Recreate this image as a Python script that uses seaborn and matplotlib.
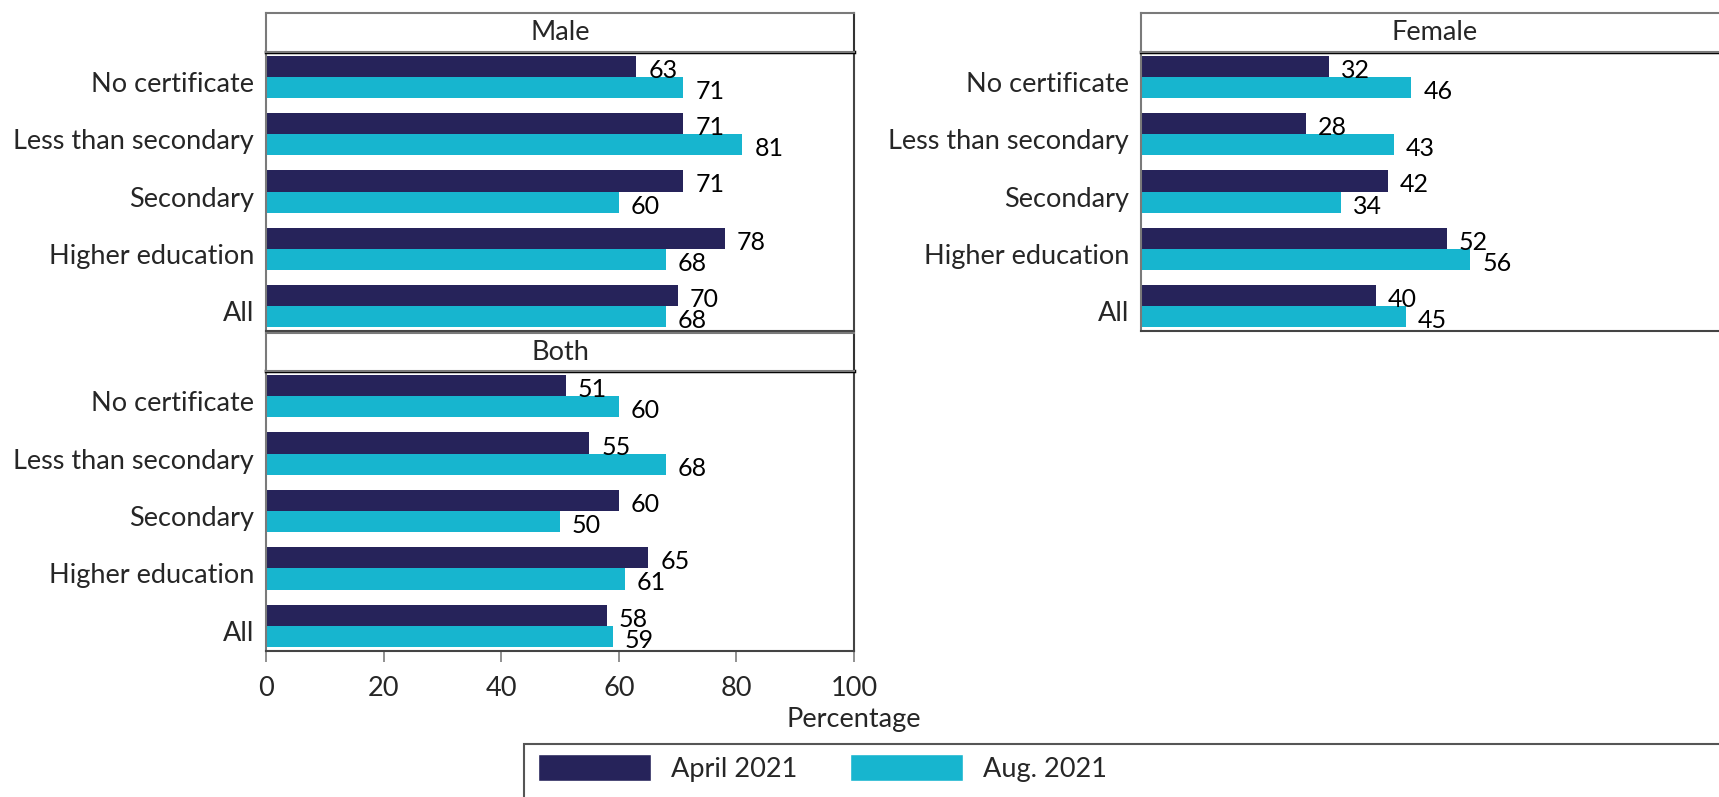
import matplotlib
matplotlib.use("Agg")
import matplotlib.pyplot as plt
import numpy as np
import pandas as pd
import seaborn as sns
from matplotlib.patches import Patch, Rectangle
from matplotlib.transforms import ScaledTranslation

# ---- data -------------------------------------------------------------
categories = ["No certificate", "Less than secondary", "Secondary",
              "Higher education", "All"]
periods = ["April 2021", "Aug. 2021"]
panels = ["Male", "Female", "Both"]

male_april = [63, 71, 71, 78, 70]
male_aug = [71, 81, 60, 68, 68]
female_april = [32, 28, 42, 52, 40]
female_aug = [46, 43, 34, 56, 45]
both_april = [51, 55, 60, 65, 58]
both_aug = [60, 68, 50, 61, 59]

x_ticks = [0, 20, 40, 60, 80, 100]

rows = []
for panel, apr, aug in zip(panels,
                           [male_april, female_april, both_april],
                           [male_aug, female_aug, both_aug]):
    for cat, a, b in zip(categories, apr, aug):
        rows.append((panel, cat, periods[0], a))
        rows.append((panel, cat, periods[1], b))
df = pd.DataFrame(rows, columns=["panel", "education", "period", "pct"])

# ---- style ------------------------------------------------------------
sns.set_style("white")
plt.rcParams["font.family"] = ["Lato", "DejaVu Sans"]
NAVY = "#26235A"
CYAN = "#17B5CF"
FS = 19.5

W, H = 1719, 797
fig = plt.figure(figsize=(W / 100, H / 100), dpi=100)


def px_axes(left, top, right, bottom):
    return fig.add_axes([left / W, 1 - bottom / H,
                         (right - left) / W, (bottom - top) / H])


# left, top, right, bottom of the plot area, top of the title strip (pixels)
layout = {
    "Male": (266, 52, 854, 331, 13),
    "Female": (1141, 52, 1729, 331, 13),
    "Both": (266, 371, 854, 651, 333),
}

label_shift = ScaledTranslation(0, -5 / 100, fig.dpi_scale_trans)

for panel in panels:
    l, t, r, b, st = layout[panel]
    ax = px_axes(l, t, r, b)
    sns.barplot(data=df[df.panel == panel], y="education", x="pct",
                hue="period", order=categories, hue_order=periods,
                palette=[NAVY, CYAN], orient="h", width=0.74,
                saturation=1, linewidth=0, legend=False, ax=ax)
    ax.set_xlim(0, 100)
    ax.set_ylim(4.44, -0.44)
    ax.set_ylabel("")
    ax.set_xlabel("")
    ax.tick_params(axis="y", length=0, pad=8.5, labelsize=FS)
    for lab in ax.get_yticklabels():
        lab.set_transform(lab.get_transform() + label_shift)

    for side, sp in ax.spines.items():
        sp.set_visible(True)
        sp.set_color("#444444")
        sp.set_linewidth(1.5)
    ax.spines["left"].set_color("#7a7a7a")
    ax.spines["top"].set_color("black")
    ax.spines["top"].set_linewidth(2.5)

    # value labels at the end of each bar
    for cont in ax.containers:
        for bar, v in zip(cont.patches, cont.datavalues):
            ax.annotate(f"{v:.0f}",
                        xy=(bar.get_x() + bar.get_width(),
                            bar.get_y() + bar.get_height() / 2),
                        xytext=(12, -4), textcoords="offset pixels",
                        ha="left", va="center", fontsize=18,
                        color="black")

    if panel == "Both":
        ax.set_xticks(x_ticks)
        ax.tick_params(axis="x", bottom=True, length=8, width=1.3,
                       color="#888888", pad=10, labelsize=FS)
        ax.set_xlabel("Percentage", fontsize=FS)
        ax.xaxis.set_label_coords(1.0, -0.2)
    else:
        ax.tick_params(axis="x", bottom=False, labelbottom=False)

    # title strip
    sax = px_axes(l, st, r, t)
    sax.set_xticks([])
    sax.set_yticks([])
    for sp in sax.spines.values():
        sp.set_visible(True)
        sp.set_color("#7a7a7a")
        sp.set_linewidth(1.5)
    sax.spines["right"].set_color("#333333")
    sax.text(0.5, 0.5, panel, ha="center", va="center", fontsize=FS,
             transform=sax.transAxes)

# ---- legend -----------------------------------------------------------
handles = [Patch(facecolor=NAVY, label=periods[0]),
           Patch(facecolor=CYAN, label=periods[1])]
fig.legend(handles=handles, loc="upper left",
           bbox_to_anchor=(538 / W, 1 - 754 / H), ncol=2, frameon=False,
           fontsize=FS, handlelength=4.17, handleheight=1.14,
           handletextpad=0.74, columnspacing=1.95, borderpad=0,
           borderaxespad=0)
fig.patches.append(Rectangle((524 / W, 1 - 830 / H), (1780 - 524) / W,
                             (830 - 744) / H, transform=fig.transFigure,
                             fill=False, edgecolor="#555555", linewidth=1.5))

fig.savefig("out.png", dpi=100)
